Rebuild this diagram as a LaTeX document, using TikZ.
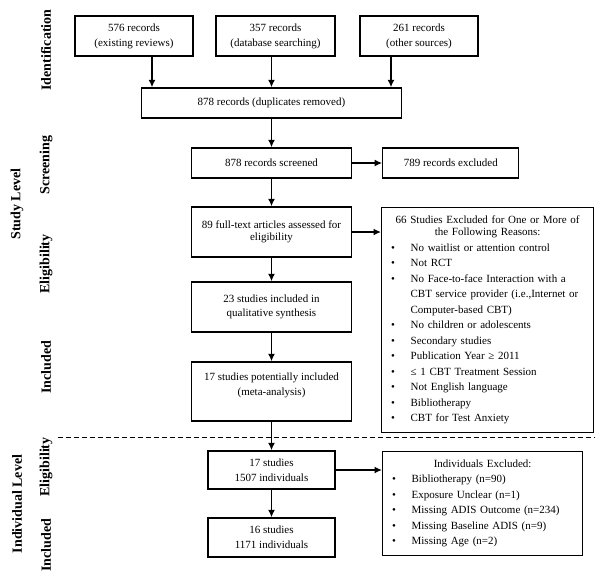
\documentclass[tikz,border=0pt]{standalone}
\usepackage{fontspec}
\setmainfont{Liberation Serif}
\usepackage{enumitem}
\usetikzlibrary{arrows.meta,positioning}

\begin{document}
\begin{tikzpicture}[x=1pt,y=-1pt]
\tikzset{box/.style={draw,line width=1.3pt,align=center,inner sep=2pt,
font=\fontsize{11}{12.4}\selectfont},
listbox/.style={draw,line width=1.3pt,align=left,anchor=north west,inner xsep=4pt,
inner ysep=8pt,font=\fontsize{11}{15.5}\selectfont},
phase/.style={rotate=90,font=\fontsize{14}{16}\selectfont\bfseries},
arrow/.style={line width=1.6pt,-{Latex[length=7.5pt,width=7pt]}}}
\useasboundingbox (0,0) rectangle (602,584);

% identification
\node[box,minimum width=118pt,minimum height=40pt] (rec576) at (134,36) {576 records\\[2.6pt](existing reviews)};
\node[box,minimum width=119pt,minimum height=40pt] (rec357) at (275.5,36) {357 records\\[2.6pt](database searching)};
\node[box,minimum width=118pt,minimum height=40pt] (rec261) at (419,36) {261 records\\[2.6pt](other sources)};
\node[box,minimum width=260pt,minimum height=30pt] (dup) at (271.5,103) {878 records (duplicates removed)};

% screening and eligibility
\node[box,minimum width=160pt,minimum height=30pt] (screened) at (271.5,163) {878 records screened};
\node[box,minimum width=136pt,minimum height=30pt,right=30pt of screened] (excl789) {789 records excluded};
\node[box,minimum width=160pt,minimum height=50pt] (fulltext) at (271.5,232) {89 full-text articles assessed for\\eligibility};
\node[box,minimum width=160pt,minimum height=50pt] (qual) at (271.5,307) {23 studies included in\\[1pt]qualitative synthesis};
\node[box,minimum width=160pt,minimum height=59pt] (meta) at (271.5,391.5) {17 studies potentially included\\[2.6pt](meta-analysis)\\[2.6pt]\mbox{}};

\node[listbox,text width=204pt] (reasons) at (381,207) {%
{\fontsize{11}{12.4}\selectfont\centering 66 Studies Excluded for One or More of\\the Following Reasons:\par}
\begin{itemize}[leftmargin=25pt,labelwidth=4pt,labelsep=15.6pt,align=left,itemsep=0pt,parsep=0pt,topsep=0pt,partopsep=0pt]
\item No waitlist or attention control
\item Not RCT
\item No Face-to-face Interaction with a\\CBT service provider (i.e.,Internet or\\Computer-based CBT)
\item No children or adolescents
\item Secondary studies
\item Publication Year ≥ 2011
\item ≤ 1 CBT Treatment Session
\item Not English language
\item Bibliotherapy
\item CBT for Test Anxiety
\end{itemize}};

% individual level
\coordinate (dashL) at (58,437);
\coordinate (dashR) at (595,437);
\draw[line width=0.8pt,dash pattern=on 5pt off 3pt] (dashL) -- (dashR);

\node[box,minimum width=127pt,minimum height=38pt] (indiv17) at (271.5,470) {17 studies\\[2.6pt]1507 individuals};
\node[box,minimum width=127pt,minimum height=39pt] (indiv16) at (271.5,537.5) {16 studies\\[2.6pt]1171 individuals};
\node[listbox,text width=192pt] (indivexcl) at (382,451) {%
{\fontsize{11}{12.4}\selectfont\centering Individuals Excluded:\par}
\begin{itemize}[leftmargin=25pt,labelwidth=4pt,labelsep=15.6pt,align=left,itemsep=0pt,parsep=0pt,topsep=0pt,partopsep=0pt]
\item Bibliotherapy (n=90)
\item Exposure Unclear (n=1)
\item Missing ADIS Outcome (n=234)
\item Missing Baseline ADIS (n=9)
\item Missing Age (n=2)
\end{itemize}};

% phase labels
\node[phase] (ident) at (46,50) {Identification};
\node[phase] (screen) at (46,165) {Screening};
\node[phase] (elig1) at (46,264) {Eligibility};
\node[phase] (incl1) at (46,367) {Included};
\node[phase] (studylvl) at (17,204) {Study Level};
\node[phase] (indivlvl) at (17,504) {Individual Level};
\node[phase] (elig2) at (46,467) {Eligibility};
\node[phase] (incl2) at (46,545) {Included};

\draw[arrow] ([xshift=18pt]rec576.south) -- ([xshift=18pt]rec576.south |- dup.north);
\draw[arrow] (rec357.south -| dup.north) -- (dup.north);
\draw[arrow] ([xshift=-28pt]rec261.south) -- ([xshift=-28pt]rec261.south |- dup.north);
\draw[arrow] (dup) -- (screened);
\draw[arrow] (screened) -- (excl789);
\draw[arrow] (screened) -- (fulltext);
\draw[arrow] (fulltext.east) -- (fulltext.east -| reasons.west);
\draw[arrow] (fulltext) -- (qual);
\draw[arrow] (qual) -- (meta);
\draw[arrow] (meta) -- (indiv17);
\draw[arrow] (indiv17.east) -- (indiv17.east -| indivexcl.west);
\draw[arrow] (indiv17) -- (indiv16);
\end{tikzpicture}
\end{document}
